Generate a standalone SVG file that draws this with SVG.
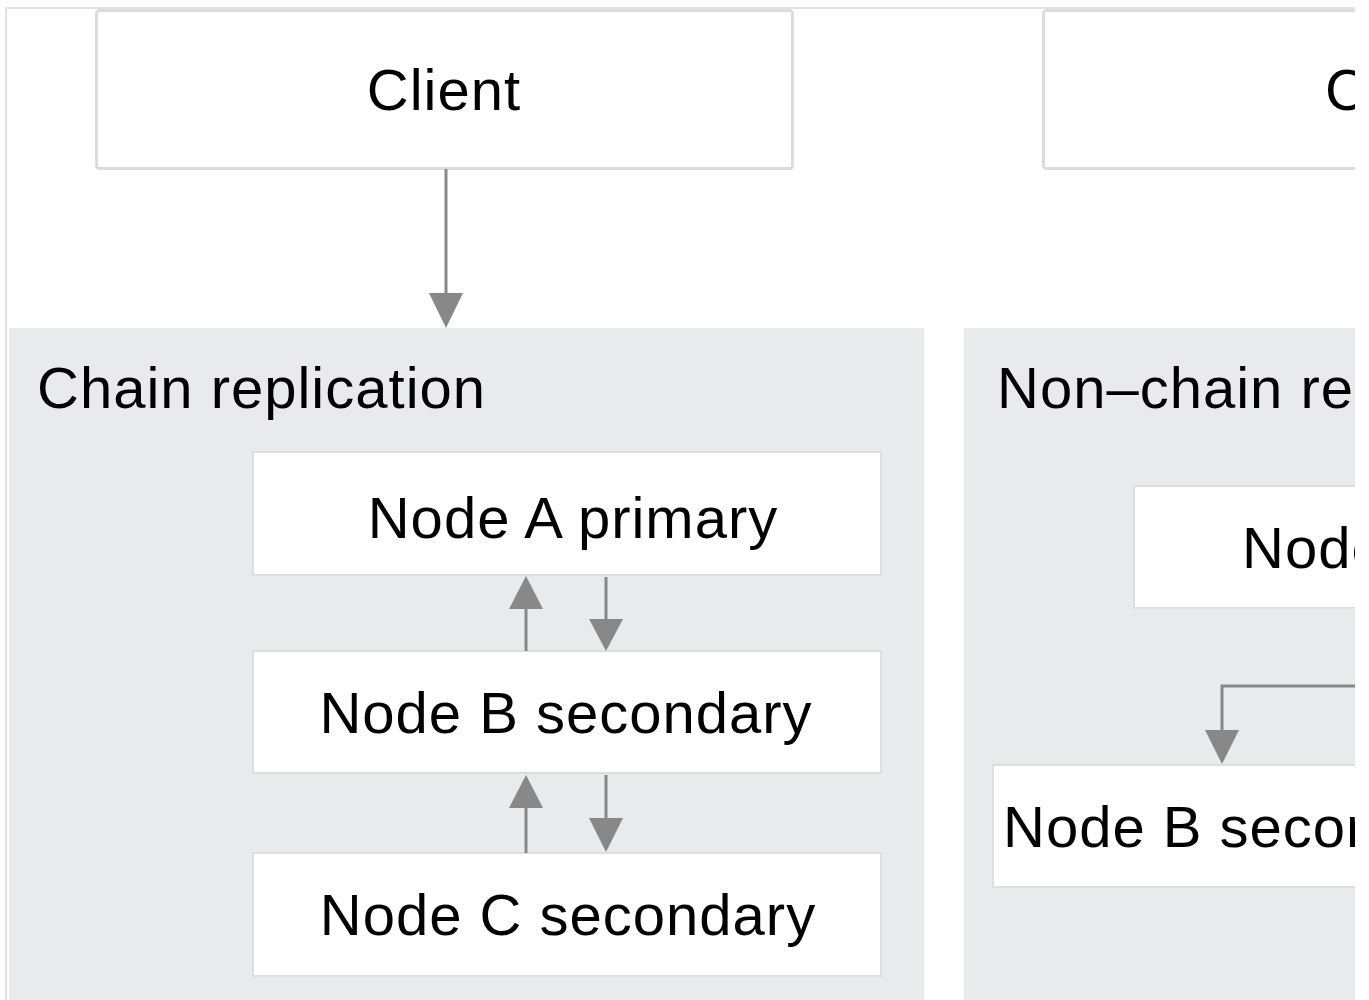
<svg xmlns="http://www.w3.org/2000/svg" width="1369" height="1000" viewBox="0 0 1369 1000">
<defs>
<style>
.box{fill:#ffffff;stroke:#dedede;stroke-width:2}
.cbox{fill:#ffffff;stroke:#dcdcdc;stroke-width:3}
.grp{fill:#e9eaec}
.t{font-family:"Liberation Sans",Arial,Helvetica,sans-serif;font-size:58px;letter-spacing:1px;fill:#000}
.c{text-anchor:middle}
.ln{stroke:#888888;stroke-width:3;fill:none}
.hd{fill:#888888}
</style>
<clipPath id="clip"><rect x="0" y="0" width="1355" height="1000"/></clipPath>
</defs>
<rect x="0" y="0" width="1369" height="1000" fill="#ffffff"/>
<g clip-path="url(#clip)">
<rect x="6" y="8" width="1400" height="1000" fill="#ffffff" stroke="#e2e2e2" stroke-width="2"/>

<g id="client-left">
<rect class="cbox" x="96.5" y="10.5" width="696" height="158" rx="3"/>
<text class="t c" x="444" y="110">Client</text>
</g>
<g id="client-right">
<rect class="cbox" x="1043.5" y="10.5" width="712" height="158" rx="3"/>
<text class="t" x="1325" y="110">Client</text>
</g>

<g id="chain-group">
<rect class="grp" x="9" y="328" width="915" height="680"/>
<text class="t" x="37" y="408">Chain replication</text>
</g>
<g id="nonchain-group">
<rect class="grp" x="964" y="328" width="500" height="680"/>
<text class="t" x="997" y="408">Non–chain replication</text>
</g>

<g id="node-a">
<rect class="box" x="253" y="452" width="628" height="123"/>
<text class="t c" x="573" y="538">Node A primary</text>
</g>
<g id="node-b">
<rect class="box" x="253" y="651" width="628" height="122"/>
<text class="t c" x="566" y="733">Node B secondary</text>
</g>
<g id="node-c">
<rect class="box" x="253" y="853" width="628" height="123"/>
<text class="t c" x="568" y="935">Node C secondary</text>
</g>
<g id="node-a-right">
<rect class="box" x="1134" y="486" width="660" height="122"/>
<text class="t" x="1242" y="568">Node A primary</text>
</g>
<g id="node-b-right">
<rect class="box" x="993" y="765" width="660" height="122"/>
<text class="t" x="1003" y="847">Node B secondary</text>
</g>

<g id="connectors">
<line class="ln" x1="446" y1="169" x2="446" y2="296"/>
<polygon class="hd" points="429,293 463,293 446,328"/>

<line class="ln" x1="526" y1="651" x2="526" y2="605"/>
<polygon class="hd" points="509,609 543,609 526,576"/>
<line class="ln" x1="606" y1="577" x2="606" y2="623"/>
<polygon class="hd" points="589,619 623,619 606,651"/>

<line class="ln" x1="526" y1="853" x2="526" y2="805"/>
<polygon class="hd" points="509,808 543,808 526,775"/>
<line class="ln" x1="606" y1="775" x2="606" y2="821"/>
<polygon class="hd" points="589,818 623,818 606,852"/>

<polyline class="ln" points="1400,686 1222,686 1222,734"/>
<polygon class="hd" points="1205,730 1239,730 1222,764"/>
</g>
</g>
</svg>
